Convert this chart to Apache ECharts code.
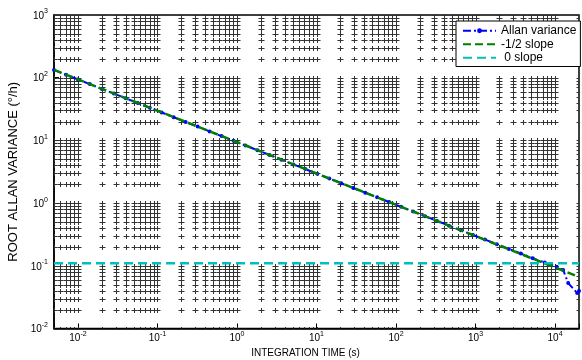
<!DOCTYPE html>
<html><head><meta charset="utf-8">
<script src="https://cdn.jsdelivr.net/npm/echarts@6/dist/echarts.min.js"></script>
<style>html,body{margin:0;padding:0;background:#fff}#c{width:582px;height:360px}</style>
</head><body><div id="c"></div>
<script>
// ---- data ----
const tau = [0.005, 0.0071, 0.01, 0.0141, 0.02, 0.0283, 0.04, 0.0566, 0.08, 0.113,
  0.16, 0.226, 0.32, 0.453, 0.64, 0.905, 1.28, 1.81, 2.56, 3.62,
  5.12, 7.24, 10.2, 14.5, 20.5, 29.0, 41.0, 57.9, 81.9, 116,
  164, 232, 328, 463, 655, 927, 1311, 1854, 2621, 3707,
  5243, 7414, 10486, 12640, 14620, 18960, 20000];
const allanVar = [133, 111.5, 93.8, 79.0, 66.3, 55.8, 46.9, 39.4, 33.2, 27.9,
  23.4, 19.7, 16.6, 13.9, 11.7, 9.85, 8.29, 6.97, 5.86, 4.93,
  4.14, 3.49, 2.93, 2.46, 2.07, 1.74, 1.465, 1.235, 1.04, 0.872,
  0.735, 0.618, 0.52, 0.437, 0.368, 0.31, 0.262, 0.221, 0.186, 0.157,
  0.132, 0.113, 0.097, 0.086, 0.053, 0.0368, 0.0395];
const halfSlopeX = [0.005, 20000];
const halfSlopeY = [133, 0.0665];
const zeroSlopeX = [0.005, 20000];
const zeroSlopeY = [0.11, 0.11];
const xRange = [0.005, 20000];
const yRange = [0.01, 1000];
const gridExp = [-3, -2, -1, 0, 1, 2, 3, 4];
const gridMult = [1, 2, 3, 4, 5, 6, 7, 8, 9];
const seriesNames = ['Allan variance', '-1/2 slope', ' 0 slope'];

// ---- helpers ----
function gridValues(range) {
  const out = [range[0]];
  gridExp.forEach(e => gridMult.forEach(m => {
    const v = m * Math.pow(10, e);
    if (v > range[0] * 1.0001 && v < range[1] * 0.9999) out.push(v);
  }));
  out.push(range[1]);
  return out;
}
const gx = gridValues(xRange), gy = gridValues(yRange);
const cross = [];
gx.forEach(x => gy.forEach(y => cross.push([x, y])));

function powLabel(v) {
  const e = Math.round(Math.log10(v));
  if (Math.abs(v / Math.pow(10, e) - 1) > 1e-6) return '';
  return '{b|10}{s|' + e + '}';
}
const FS = '"Liberation Sans", Arial, Helvetica, sans-serif';
const rich = {
  b: { fontSize: 10, fontFamily: FS, color: '#000', lineHeight: 12, verticalAlign: 'bottom' },
  s: { fontSize: 7, fontFamily: FS, color: '#000', lineHeight: 8, padding: [0, 0, 6, 0], verticalAlign: 'bottom' }
};
const gridColor = '#333';
const hideMarker = { color: 'rgba(0,0,0,0)', borderWidth: 0, borderColor: 'rgba(0,0,0,0)' };

const chart = echarts.init(document.getElementById('c'), null, { renderer: 'canvas' });
chart.setOption({
  animation: false,
  backgroundColor: '#fff',
  grid: { left: 54, right: 3, top: 15, bottom: 31.5, containLabel: false, outerBoundsMode: 'none',
    show: true, borderColor: '#000', borderWidth: 1.5, backgroundColor: 'transparent' },
  legend: {
    data: [
      { name: seriesNames[0] },
      { name: seriesNames[1], itemStyle: hideMarker },
      { name: seriesNames[2], itemStyle: hideMarker }
    ],
    orient: 'vertical', left: 456, top: 21,
    itemWidth: 33, itemHeight: 6, itemGap: 0,
    padding: [3, 4, 2, 6],
    borderColor: '#000', borderWidth: 1, backgroundColor: '#fff',
    textStyle: { fontSize: 12, fontFamily: FS, color: '#000', lineHeight: 13.5 },
    z: 10
  },
  xAxis: {
    type: 'log', logBase: 10, min: xRange[0], max: xRange[1], splitNumber: 7,
    name: 'INTEGRATION TIME (s)', nameLocation: 'middle', nameGap: 20,
    nameTextStyle: { fontSize: 10, fontFamily: FS, color: '#000', padding: [0, 22, 0, 0] },
    axisLine: { show: true, lineStyle: { color: '#000', width: 1.5 } },
    axisTick: { show: true, inside: true, length: 5, lineStyle: { color: '#000' } },
    axisLabel: { formatter: powLabel, rich: rich, margin: 3, hideOverlap: false },
    splitLine: { show: false }, minorTick: { show: false }, minorSplitLine: { show: false }
  },
  yAxis: {
    type: 'log', logBase: 10, min: yRange[0], max: yRange[1], interval: 1,
    name: 'ROOT ALLAN VARIANCE (°/h)', nameLocation: 'middle', nameGap: 33,
    nameTextStyle: { fontSize: 13, fontFamily: FS, color: '#000' },
    axisLine: { show: true, lineStyle: { color: '#000', width: 1.5 } },
    axisTick: { show: true, inside: true, length: 5, lineStyle: { color: '#000' } },
    axisLabel: { formatter: powLabel, rich: rich, margin: 6, hideOverlap: false },
    splitLine: { show: false }
  },
  series: [
    {
      name: 'gridmarks', type: 'custom', z: 1, silent: true, clip: true,
      progressive: 0, legendHoverLink: false,
      data: cross, encode: { x: 0, y: 1 },
      renderItem: function (params, api) {
        const p = api.coord([api.value(0), api.value(1)]);
        const x = Math.round(p[0]) + 0.5, y = Math.round(p[1]) + 0.5;
        const st = { stroke: gridColor, lineWidth: 1 };
        return { type: 'group', children: [
          { type: 'line', shape: { x1: x - 3, y1: y, x2: x + 3, y2: y }, style: st },
          { type: 'line', shape: { x1: x, y1: y - 2.5, x2: x, y2: y + 2.5 }, style: st }
        ] };
      }
    },
    {
      name: seriesNames[0], type: 'line', z: 3,
      data: tau.map((t, i) => [t, allanVar[i]]),
      symbol: 'circle', symbolSize: 4, showSymbol: true,
      lineStyle: { color: '#0000ff', width: 2, type: [8, 3, 2, 3] },
      itemStyle: { color: '#0000ff' }
    },
    {
      name: seriesNames[1], type: 'line', z: 4,
      data: halfSlopeX.map((t, i) => [t, halfSlopeY[i]]),
      symbol: 'none',
      lineStyle: { color: '#008000', width: 2.5, type: [8, 4] },
      itemStyle: { color: '#008000' }
    },
    {
      name: seriesNames[2], type: 'line', z: 5,
      data: zeroSlopeX.map((t, i) => [t, zeroSlopeY[i]]),
      symbol: 'none',
      lineStyle: { color: '#00bfbf', width: 2.5, type: [9, 5] },
      itemStyle: { color: '#00bfbf' }
    }
  ]
});
</script>
</body></html>
